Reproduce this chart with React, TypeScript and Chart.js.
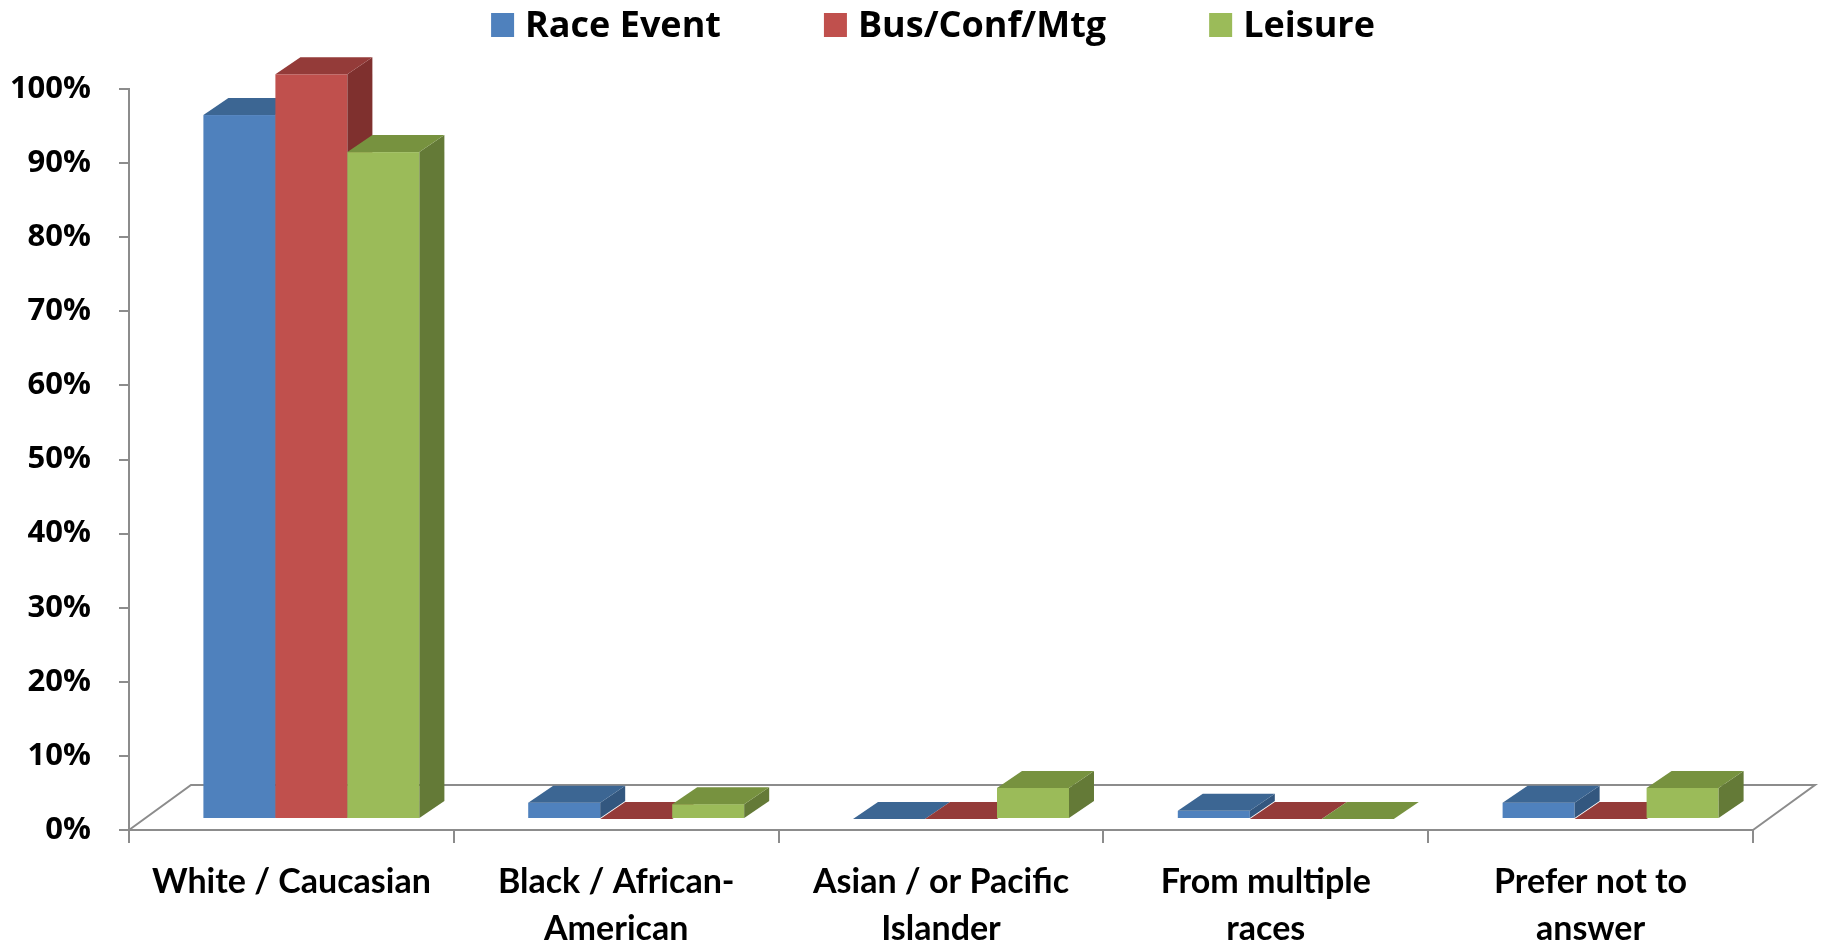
import React, { useEffect, useRef } from "react";
import { Chart, registerables } from "chart.js";

Chart.register(...registerables);

// ---- data ----
const categories: string[][] = [
  ["White / Caucasian"],
  ["Black / African-", "American"],
  ["Asian / or Pacific", "Islander"],
  ["From multiple", "races"],
  ["Prefer not to", "answer"],
];
const seriesNames = ["Race Event", "Bus/Conf/Mtg", "Leisure"];
const raceEvent = [0.95, 0.022, 0, 0.011, 0.022];
const busConfMtg = [1.005, 0, 0, 0, 0];
const leisure = [0.9, 0.02, 0.042, 0, 0.042];
const yTickValues = [0, 0.1, 0.2, 0.3, 0.4, 0.5, 0.6, 0.7, 0.8, 0.9, 1.0];

// ---- styles ----
const frontColors = ["#4F81BD", "#C0504D", "#9BBB59"];
const topColors = ["#3C6693", "#943B39", "#77923F"];
const sideColors = ["#33577F", "#7F302E", "#647A37"];
const axisColor = "#8C8C8C";
const FRONT_DX = 20;
const FRONT_DY = 11;
const BAR_DX = 25;
const BAR_DY = 17;
const FLOOR_DX = 62;
const FLOOR_DY = 45;
const labelFont = "Lato";
const legendFont = "'Open Sans'";

function poly(ctx: CanvasRenderingContext2D, pts: number[][], color: string) {
  ctx.beginPath();
  ctx.moveTo(pts[0][0], pts[0][1]);
  for (let i = 1; i < pts.length; i++) ctx.lineTo(pts[i][0], pts[i][1]);
  ctx.closePath();
  ctx.fillStyle = color;
  ctx.fill();
}

const floorPlugin = {
  id: "floor3d",
  beforeDatasetsDraw(chart: any) {
    const { ctx, chartArea } = chart;
    const { left, right, bottom } = chartArea;
    ctx.save();
    ctx.strokeStyle = axisColor;
    ctx.lineWidth = 2;
    ctx.beginPath();
    ctx.moveTo(left, bottom);
    ctx.lineTo(left + FLOOR_DX, bottom - FLOOR_DY);
    ctx.lineTo(right + FLOOR_DX, bottom - FLOOR_DY);
    ctx.lineTo(right, bottom);
    ctx.stroke();
    ctx.restore();
  },
};

const bars3dPlugin = {
  id: "bars3d",
  beforeDatasetDraw() {
    return false;
  },
  afterDatasetsDraw(chart: any) {
    const { ctx } = chart;
    const nCat = chart.data.labels.length;
    const nDs = chart.data.datasets.length;
    ctx.save();
    for (let c = 0; c < nCat; c++) {
      for (let d = 0; d < nDs; d++) {
        const el = chart.getDatasetMeta(d).data[c];
        const p = el.getProps(["x", "y", "base", "width"], true);
        const x0 = p.x - p.width / 2 + FRONT_DX;
        const x1 = p.x + p.width / 2 + FRONT_DX;
        const yt = Math.min(p.y, p.base) - FRONT_DY;
        const yb = Math.max(p.y, p.base) - FRONT_DY;
        if (yb - yt > 0.5) {
          ctx.fillStyle = frontColors[d];
          ctx.fillRect(x0, yt, x1 - x0, yb - yt);
          poly(
            ctx,
            [
              [x1, yt],
              [x1 + BAR_DX, yt - BAR_DY],
              [x1 + BAR_DX, yb - BAR_DY],
              [x1, yb],
            ],
            sideColors[d]
          );
        }
        poly(
          ctx,
          [
            [x0, yt],
            [x1, yt],
            [x1 + BAR_DX, yt - BAR_DY],
            [x0 + BAR_DX, yt - BAR_DY],
          ],
          topColors[d]
        );
      }
    }
    ctx.restore();
  },
};

const legendPlugin = {
  id: "customLegend",
  afterDraw(chart: any) {
    const { ctx } = chart;
    ctx.save();
    ctx.font = `bold 36px ${legendFont}`;
    const box = 23;
    const boxH = 24;
    const gapText = 11;
    const gapItem = 103;
    const widths = seriesNames.map((s) => ctx.measureText(s).width);
    const total =
      widths.reduce((a, w) => a + box + gapText + w, 0) + gapItem * (seriesNames.length - 1);
    let x = 933 - total / 2;
    const baseline = 37;
    seriesNames.forEach((name, i) => {
      ctx.fillStyle = frontColors[i];
      ctx.fillRect(x, 13, box, boxH);
      x += box + gapText;
      ctx.fillStyle = "#000";
      ctx.textBaseline = "alphabetic";
      ctx.textAlign = "left";
      ctx.fillText(name, x, baseline);
      x += widths[i] + gapItem;
    });
    ctx.restore();
  },
};

export default function App() {
  const ref = useRef<HTMLCanvasElement | null>(null);
  useEffect(() => {
    if (!ref.current) return;
    const seriesValues = [raceEvent, busConfMtg, leisure];
    const chart = new Chart(ref.current, {
      type: "bar",
      data: {
        labels: categories,
        datasets: seriesNames.map((name, i) => ({
          label: name,
          data: seriesValues[i],
          backgroundColor: frontColors[i],
          barPercentage: 1,
          categoryPercentage: 0.665,
        })),
      },
      options: {
        responsive: false,
        animation: false,
        events: [],
        layout: { padding: { top: 89, right: 71, left: 0, bottom: 0 } },
        plugins: {
          legend: { display: false },
          title: { display: false },
          tooltip: { enabled: false },
        },
        scales: {
          x: {
            grid: {
              display: true,
              drawOnChartArea: false,
              drawTicks: true,
              tickLength: 13,
              color: axisColor,
              lineWidth: 2,
              offset: true,
            },
            border: { display: true, color: axisColor, width: 2 },
            ticks: {
              color: "#000",
              padding: 16,
              maxRotation: 0,
              autoSkip: false,
              font: { family: labelFont, weight: "bold", size: 34, lineHeight: 1.38 },
            },
            afterFit(scale: any) {
              scale.height = 113;
            },
          },
          y: {
            min: 0,
            max: 1,
            afterBuildTicks(scale: any) {
              scale.ticks = yTickValues.map((v) => ({ value: v }));
            },
            grid: {
              display: true,
              drawOnChartArea: false,
              drawTicks: true,
              tickLength: 10,
              color: axisColor,
              lineWidth: 2,
            },
            border: { display: true, color: axisColor, width: 2 },
            ticks: {
              color: "#000",
              padding: 28,
              font: { family: legendFont, weight: "bold", size: 31 },
              callback: (v: any) => `${Math.round(Number(v) * 100)}%`,
            },
            afterFit(scale: any) {
              scale.width = 129;
            },
          },
        },
      },
      plugins: [floorPlugin, bars3dPlugin, legendPlugin],
    });
    return () => chart.destroy();
  }, []);
  return (
    <div style={{ position: "absolute", left: 0, top: 0, width: 1824, height: 943, background: "#fff" }}>
      <canvas ref={ref} width={1824} height={943} style={{ display: "block" }} />
    </div>
  );
}
